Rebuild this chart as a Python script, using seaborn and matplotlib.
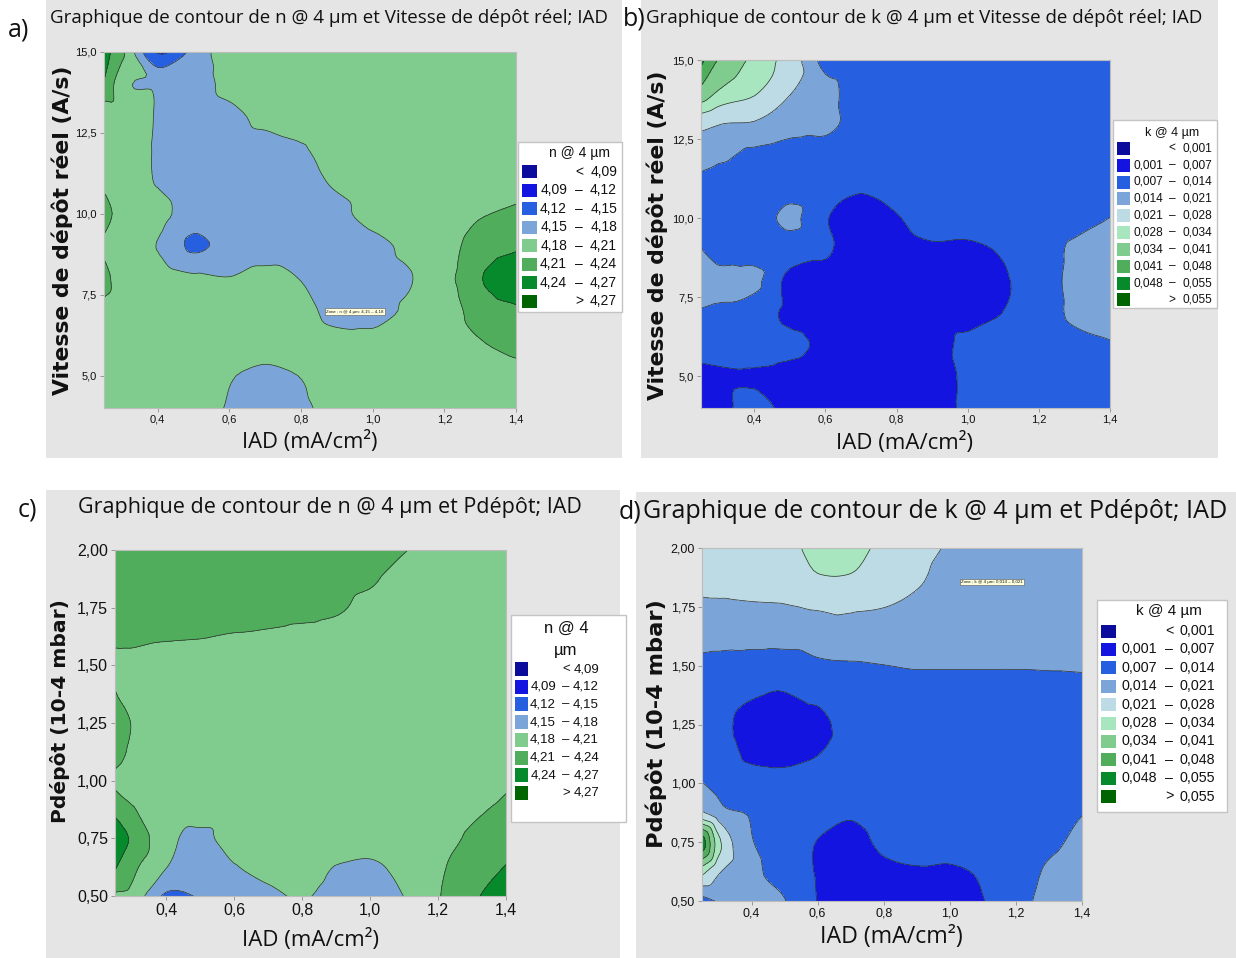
import numpy as np
import matplotlib
matplotlib.use("Agg")
import matplotlib.pyplot as plt
import matplotlib.tri as mtri
from matplotlib.patches import Rectangle
import seaborn as sns

sns.set_theme(style="ticks")
plt.rcParams["font.family"] = ["Open Sans", "DejaVu Sans"]
plt.rcParams["text.color"] = "#111111"
NARROW = ["Liberation Sans Narrow", "Liberation Sans", "DejaVu Sans"]

# ---------------- data ----------------
IAD = [0.25, 0.3, 0.4, 0.5, 0.6, 0.7, 0.8, 0.9, 1.0, 1.1, 1.2, 1.3, 1.4]
VITESSE = [15, 14, 13, 12, 11, 10, 9, 8, 7, 6, 5, 4]
PDEPOT = [2.0, 1.875, 1.75, 1.625, 1.5, 1.375, 1.25, 1.125, 1.0, 0.875, 0.75, 0.625, 0.5]

# n @ 4 um vs IAD (columns) and Vitesse (rows, top to bottom)
N_VITESSE = [
    [4.255, 4.215, 4.117, 4.158, 4.202, 4.195, 4.195, 4.195, 4.195, 4.195, 4.195, 4.195, 4.195],
    [4.238, 4.190, 4.175, 4.165, 4.190, 4.195, 4.195, 4.195, 4.195, 4.195, 4.195, 4.195, 4.195],
    [4.185, 4.195, 4.178, 4.165, 4.170, 4.190, 4.195, 4.195, 4.195, 4.195, 4.195, 4.195, 4.195],
    [4.195, 4.195, 4.177, 4.163, 4.163, 4.165, 4.177, 4.195, 4.195, 4.195, 4.195, 4.195, 4.195],
    [4.205, 4.195, 4.178, 4.162, 4.160, 4.163, 4.168, 4.185, 4.195, 4.195, 4.195, 4.197, 4.200],
    [4.220, 4.200, 4.190, 4.165, 4.160, 4.160, 4.163, 4.170, 4.195, 4.195, 4.197, 4.208, 4.215],
    [4.205, 4.195, 4.179, 4.145, 4.160, 4.163, 4.165, 4.165, 4.168, 4.188, 4.200, 4.222, 4.235],
    [4.220, 4.195, 4.195, 4.185, 4.181, 4.190, 4.179, 4.168, 4.168, 4.178, 4.200, 4.238, 4.262],
    [4.200, 4.195, 4.195, 4.195, 4.195, 4.195, 4.190, 4.170, 4.168, 4.185, 4.197, 4.222, 4.235],
    [4.195, 4.195, 4.195, 4.195, 4.195, 4.195, 4.195, 4.190, 4.190, 4.195, 4.198, 4.208, 4.225],
    [4.195, 4.195, 4.195, 4.195, 4.182, 4.172, 4.181, 4.195, 4.195, 4.195, 4.195, 4.200, 4.195],
    [4.195, 4.195, 4.195, 4.190, 4.178, 4.165, 4.175, 4.190, 4.195, 4.195, 4.195, 4.195, 4.195],
]

# k @ 4 um vs IAD and Vitesse
K_VITESSE = [
    [0.0500, 0.0405, 0.0324, 0.0251, 0.0115, 0.0105, 0.0105, 0.0105, 0.0105, 0.0105, 0.0105, 0.0105, 0.0105],
    [0.0390, 0.0335, 0.0290, 0.0215, 0.0160, 0.0115, 0.0105, 0.0105, 0.0105, 0.0105, 0.0105, 0.0105, 0.0105],
    [0.0235, 0.0215, 0.0205, 0.0170, 0.0160, 0.0110, 0.0105, 0.0105, 0.0105, 0.0105, 0.0105, 0.0105, 0.0105],
    [0.0165, 0.0155, 0.0125, 0.0110, 0.0105, 0.0105, 0.0105, 0.0105, 0.0105, 0.0105, 0.0105, 0.0105, 0.0105],
    [0.0125, 0.0105, 0.0105, 0.0115, 0.0095, 0.0077, 0.0095, 0.0105, 0.0105, 0.0105, 0.0105, 0.0110, 0.0115],
    [0.0115, 0.0105, 0.0105, 0.0155, 0.0075, 0.0040, 0.0065, 0.0105, 0.0105, 0.0105, 0.0105, 0.0115, 0.0141],
    [0.0142, 0.0115, 0.0115, 0.0105, 0.0078, 0.0040, 0.0040, 0.0058, 0.0055, 0.0077, 0.0105, 0.0152, 0.0175],
    [0.0165, 0.0160, 0.0155, 0.0050, 0.0050, 0.0035, 0.0040, 0.0040, 0.0040, 0.0065, 0.0093, 0.0163, 0.0185],
    [0.0135, 0.0128, 0.0105, 0.0055, 0.0040, 0.0040, 0.0040, 0.0040, 0.0040, 0.0071, 0.0105, 0.0152, 0.0175],
    [0.0105, 0.0105, 0.0105, 0.0085, 0.0058, 0.0040, 0.0040, 0.0040, 0.0088, 0.0095, 0.0105, 0.0120, 0.0135],
    [0.0051, 0.0058, 0.0062, 0.0050, 0.0040, 0.0040, 0.0040, 0.0040, 0.0083, 0.0105, 0.0105, 0.0105, 0.0115],
    [0.0050, 0.0050, 0.0095, 0.0050, 0.0045, 0.0040, 0.0040, 0.0040, 0.0084, 0.0105, 0.0105, 0.0105, 0.0105],
]

# n @ 4 um vs IAD and Pdepot
N_PDEPOT = [
    [4.225, 4.225, 4.225, 4.225, 4.225, 4.225, 4.225, 4.225, 4.220, 4.212, 4.195, 4.195, 4.195],
    [4.225, 4.225, 4.225, 4.225, 4.225, 4.225, 4.225, 4.222, 4.215, 4.195, 4.195, 4.195, 4.195],
    [4.222, 4.222, 4.222, 4.222, 4.225, 4.225, 4.222, 4.215, 4.200, 4.195, 4.195, 4.195, 4.195],
    [4.215, 4.215, 4.212, 4.211, 4.208, 4.205, 4.200, 4.197, 4.195, 4.195, 4.195, 4.195, 4.195],
    [4.204, 4.203, 4.200, 4.200, 4.198, 4.197, 4.196, 4.195, 4.195, 4.195, 4.195, 4.195, 4.195],
    [4.211, 4.200, 4.195, 4.195, 4.195, 4.195, 4.195, 4.195, 4.195, 4.195, 4.195, 4.195, 4.195],
    [4.225, 4.209, 4.195, 4.195, 4.195, 4.195, 4.195, 4.195, 4.195, 4.195, 4.195, 4.195, 4.195],
    [4.222, 4.205, 4.195, 4.195, 4.195, 4.195, 4.195, 4.195, 4.195, 4.195, 4.195, 4.195, 4.195],
    [4.205, 4.195, 4.195, 4.195, 4.195, 4.195, 4.195, 4.195, 4.195, 4.195, 4.195, 4.195, 4.205],
    [4.232, 4.213, 4.195, 4.195, 4.195, 4.195, 4.195, 4.195, 4.195, 4.195, 4.197, 4.205, 4.216],
    [4.258, 4.2355, 4.190, 4.172, 4.195, 4.195, 4.195, 4.195, 4.195, 4.195, 4.198, 4.215, 4.228],
    [4.242, 4.218, 4.181, 4.162, 4.178, 4.190, 4.195, 4.179, 4.174, 4.190, 4.205, 4.228, 4.241],
    [4.205, 4.200, 4.145, 4.152, 4.165, 4.172, 4.183, 4.168, 4.165, 4.1805, 4.208, 4.235, 4.255],
]

# k @ 4 um vs IAD and Pdepot
K_PDEPOT = [
    [0.0250, 0.0250, 0.0250, 0.0255, 0.0305, 0.0305, 0.0263, 0.0235, 0.0202, 0.0175, 0.0175, 0.0175, 0.0175],
    [0.0245, 0.0245, 0.0245, 0.0250, 0.0275, 0.0275, 0.0250, 0.0220, 0.0185, 0.0175, 0.0175, 0.0175, 0.0175],
    [0.0194, 0.0197, 0.0203, 0.0206, 0.0215, 0.0218, 0.0211, 0.0195, 0.0175, 0.0175, 0.0175, 0.0175, 0.0175],
    [0.0180, 0.0180, 0.0180, 0.0180, 0.0185, 0.0185, 0.0175, 0.0175, 0.0175, 0.0175, 0.0175, 0.0175, 0.0175],
    [0.0113, 0.0103, 0.0089, 0.0089, 0.0124, 0.0133, 0.0139, 0.0145, 0.0145, 0.0145, 0.0145, 0.0147, 0.0150],
    [0.0105, 0.0105, 0.0075, 0.0068, 0.0085, 0.0105, 0.0105, 0.0105, 0.0105, 0.0105, 0.0105, 0.0105, 0.0105],
    [0.0105, 0.0095, 0.0040, 0.0045, 0.0047, 0.0105, 0.0105, 0.0105, 0.0105, 0.0105, 0.0105, 0.0105, 0.0105],
    [0.0105, 0.0105, 0.0055, 0.0050, 0.0068, 0.0105, 0.0105, 0.0105, 0.0105, 0.0105, 0.0105, 0.0105, 0.0105],
    [0.0142, 0.0125, 0.0105, 0.0095, 0.0105, 0.0105, 0.0105, 0.0105, 0.0105, 0.0105, 0.0105, 0.0105, 0.0105],
    [0.0219, 0.0170, 0.0135, 0.0105, 0.0095, 0.0078, 0.0105, 0.0105, 0.0105, 0.0105, 0.0105, 0.0112, 0.0138],
    [0.0520, 0.0300, 0.0145, 0.0105, 0.0068, 0.0045, 0.0085, 0.0095, 0.0095, 0.0105, 0.0105, 0.0128, 0.0155],
    [0.0300, 0.0220, 0.0155, 0.0115, 0.0065, 0.0040, 0.0055, 0.0064, 0.0062, 0.0078, 0.0110, 0.0148, 0.0170],
    [0.0110, 0.0142, 0.0165, 0.0142, 0.0068, 0.0040, 0.0040, 0.0040, 0.0045, 0.0068, 0.0115, 0.0162, 0.0175],
]

N_LEVELS = [4.09, 4.12, 4.15, 4.18, 4.21, 4.24, 4.27]
K_LEVELS = [0.001, 0.007, 0.014, 0.021, 0.028, 0.034, 0.041, 0.048, 0.055]

X_TICKS = [0.4, 0.6, 0.8, 1.0, 1.2, 1.4]
X_TICK_LABELS = ["0,4", "0,6", "0,8", "1,0", "1,2", "1,4"]
V_TICKS = [5, 7.5, 10, 12.5, 15]
V_TICK_LABELS = ["5,0", "7,5", "10,0", "12,5", "15,0"]
P_TICKS = [0.5, 0.75, 1.0, 1.25, 1.5, 1.75, 2.0]
P_TICK_LABELS = ["0,50", "0,75", "1,00", "1,25", "1,50", "1,75", "2,00"]

# Minitab-like palette
N_COLORS = ["#0c0c9c", "#1414e0", "#2660e0", "#7ba4d8", "#80cc8f", "#4fad5b", "#078a2b", "#006400"]
K_COLORS = ["#0c0c9c", "#1414e0", "#2660e0", "#7ba4d8", "#bddbe4", "#a8e6bf",
            "#80cc8f", "#4fad5b", "#078a2b", "#006400"]

# ---------------- figure ----------------
W, H = 1236, 958
fig = plt.figure(figsize=(W / 100, H / 100), dpi=100)
renderer = fig.canvas.get_renderer()


def px_rect(x0, y0, x1, y1):
    return [x0 / W, 1 - y1 / H, (x1 - x0) / W, (y1 - y0) / H]


def add_text(x, y, s, size, width=None, rotated=False, **kw):
    t = fig.text(x / W, 1 - y / H, s, fontsize=size, rotation=90 if rotated else 0,
                 ha="center", va="center", **kw)
    if width:
        bb = t.get_window_extent(renderer)
        t.set_fontsize(size * width / (bb.height if rotated else bb.width))
    return t


def contour_panel(box, y, z, levels, colors, ylim, yticks, yticklabels, tick_size):
    ax = fig.add_axes(px_rect(*box))
    xx, yy = np.meshgrid(IAD, y)
    zz = np.asarray(z, dtype=float).ravel()
    tri = mtri.Triangulation(xx.ravel(), yy.ravel())
    # smooth the read grid the way Minitab does, with matplotlib's cubic interpolator
    interp = mtri.CubicTriInterpolator(tri, zz, kind="geom")
    tri_f, z_f = mtri.UniformTriRefiner(tri).refine_field(zz, triinterpolator=interp, subdiv=3)
    edges = [levels[0] - 1] + list(levels) + [levels[-1] + 1]
    ax.tricontourf(tri_f, z_f, levels=edges, colors=colors)
    ax.tricontour(tri_f, z_f, levels=levels, colors="#2d2d2d", linewidths=0.5)
    ax.set_xlim(0.25, 1.4)
    ax.set_ylim(*ylim)
    ax.set_xticks(X_TICKS, X_TICK_LABELS, fontsize=tick_size, family=NARROW)
    ax.set_yticks(yticks, yticklabels, fontsize=tick_size, family=NARROW)
    ax.tick_params(length=3, width=0.6, color="#8c8c8c", pad=2, labelcolor="#111111")
    for s in ax.spines.values():
        s.set_color("#bcbcbc")
        s.set_linewidth(0.8)
    return ax


def band_labels(levels, fmt):
    out = [("", "<", fmt(levels[0]))]
    out += [(fmt(a), "–", fmt(b)) for a, b in zip(levels[:-1], levels[1:])]
    out.append(("", ">", fmt(levels[-1])))
    return out


def legend_panel(box, title_lines, labels, colors, row0, step, sw, cols, size, title_size):
    x0, y0, x1, y1 = box
    lax = fig.add_axes(px_rect(x0, y0, x1, y1))
    lax.set_xlim(x0, x1)
    lax.set_ylim(y1, y0)
    lax.axis("off")
    lax.add_patch(Rectangle((x0, y0), x1 - x0, y1 - y0, facecolor="white",
                            edgecolor="#c4c4c4", lw=1, clip_on=False))
    for ty, line in title_lines:
        lax.text(cols[1], ty, line, ha="center", va="center", fontsize=title_size, family=NARROW)
    sx, sw_w, sw_h = sw
    for i, ((lo, sep, hi), c) in enumerate(zip(labels, colors)):
        yy = row0 + i * step
        lax.add_patch(Rectangle((sx, yy - sw_h / 2), sw_w, sw_h, facecolor=c, edgecolor="none"))
        kw = dict(va="center", fontsize=size, family=NARROW)
        lax.text(cols[0], yy, lo, ha="right", **kw)
        lax.text(cols[1], yy, sep, ha="center", **kw)
        lax.text(cols[2], yy, hi, ha="right", **kw)


# grey panel backgrounds
for bx in [(46, 0, 622, 458), (641, 0, 1218, 458), (46, 490, 620, 958), (636, 492, 1236, 958)]:
    fig.add_artist(Rectangle((bx[0] / W, 1 - bx[3] / H), (bx[2] - bx[0]) / W, (bx[3] - bx[1]) / H,
                             transform=fig.transFigure, facecolor="#e5e5e5", edgecolor="none", zorder=-1))

fmt_n = lambda v: f"{v:.2f}".replace(".", ",")
fmt_k = lambda v: f"{v:.3f}".replace(".", ",")
n_labels = band_labels(N_LEVELS, fmt_n)
k_labels = band_labels(K_LEVELS, fmt_k)

# a) n vs Vitesse
ax_a = contour_panel((104, 52, 516, 408), VITESSE, N_VITESSE, N_LEVELS, N_COLORS,
                     (4, 15), V_TICKS, V_TICK_LABELS, 8)
ax_a.text(0.95, 6.98, "Zone ; n @ 4 µm: 4,15 – 4,18", fontsize=3.2, ha="center", va="center",
          family=NARROW, bbox=dict(facecolor="#ffffe0", edgecolor="#555555", lw=0.4, pad=0.8))
legend_panel((518, 142, 622, 312), [(153, "n @ 4 µm")], n_labels, N_COLORS,
             171.7, 18.5, (522, 15, 13), (567, 579, 617), 10, 10)

# b) k vs Vitesse
contour_panel((701, 60, 1110, 408), VITESSE, K_VITESSE, K_LEVELS, K_COLORS,
              (4, 15), V_TICKS, V_TICK_LABELS, 8)
legend_panel((1113, 120, 1217, 308), [(133, "k @ 4 µm")], k_labels, K_COLORS,
             148.3, 16.85, (1117, 13, 13), (1163, 1172, 1212), 8.6, 9)

# c) n vs Pdepot
contour_panel((115, 550, 506, 896), PDEPOT, N_PDEPOT, N_LEVELS, N_COLORS,
              (0.5, 2.0), P_TICKS, P_TICK_LABELS, 11.5)
legend_panel((511, 615, 626, 822), [(628, "n @ 4"), (650, "µm")], n_labels, N_COLORS,
             669, 17.7, (515, 13, 14), (556, 566, 599), 9.5, 12)

# d) k vs Pdepot
ax_d = contour_panel((702, 548, 1082, 901), PDEPOT, K_PDEPOT, K_LEVELS, K_COLORS,
                     (0.5, 2.0), P_TICKS, P_TICK_LABELS, 9)
ax_d.text(1.127, 1.854, "Zone ; k @ 4 µm: 0,014 – 0,021", fontsize=3.2, ha="center", va="center",
          family=NARROW, bbox=dict(facecolor="#ffffe0", edgecolor="#555555", lw=0.4, pad=0.8))
legend_panel((1097, 600, 1227, 812), [(611, "k @ 4 µm")], k_labels, K_COLORS,
             631, 18.4, (1101, 15, 13), (1157, 1169, 1215), 10.3, 11)

# titles
add_text(329, 18, "Graphique de contour de n @ 4 µm et Vitesse de dépôt réel; IAD", 14, width=562)
add_text(924, 18, "Graphique de contour de k @ 4 µm et Vitesse de dépôt réel; IAD", 14, width=561)
add_text(330, 508, "Graphique de contour de n @ 4 µm et Pdépôt; IAD", 16, width=503)
add_text(935, 512, "Graphique de contour de k @ 4 µm et Pdépôt; IAD", 18, width=585)

# axis labels
add_text(62, 230, "Vitesse de dépôt réel (A/s)", 14, width=330, rotated=True,
         family="DejaVu Sans", weight="bold")
add_text(657, 235, "Vitesse de dépôt réel (A/s)", 14, width=330, rotated=True,
         family="DejaVu Sans", weight="bold")
add_text(60, 711, "Pdépôt (10-4 mbar)", 14, width=224, rotated=True,
         family="DejaVu Sans", weight="bold")
add_text(656, 724, "Pdépôt (10-4 mbar)", 14, width=248, rotated=True,
         family="DejaVu Sans", weight="bold")
for cx, cy, wd in [(310, 442, 136), (905, 443, 137), (311, 940, 137), (891, 937, 143)]:
    add_text(cx, cy, "IAD (mA/cm²)", 16, width=wd)

# panel letters
for cx, cy, s in [(19, 30, "a)"), (634, 19, "b)"), (27, 510, "c)"), (630, 512, "d)")]:
    add_text(cx, cy, s, 18)

fig.savefig("out.png", dpi=100)
